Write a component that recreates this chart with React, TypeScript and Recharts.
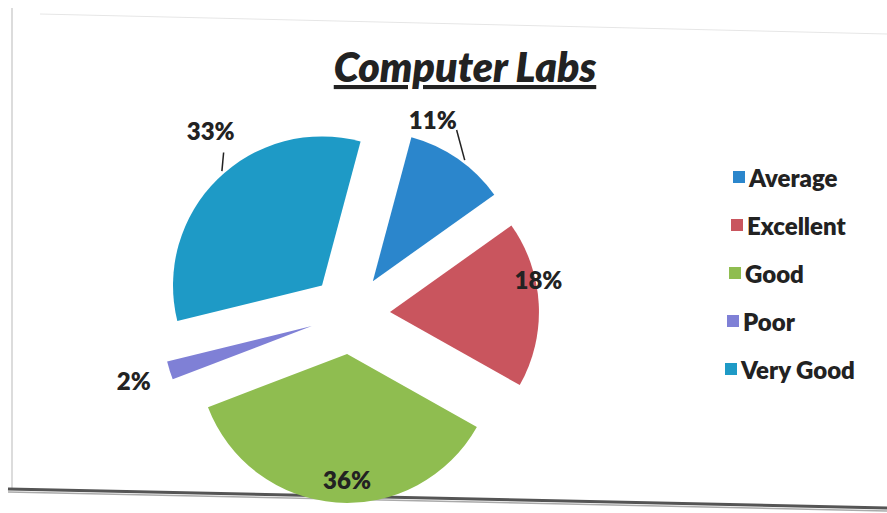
import React from "react";
import { PieChart, Pie, Cell, Legend, Sector } from "recharts";

const categories = ["Average", "Excellent", "Good", "Poor", "Very Good"];
const values = [11, 18, 36, 2, 33];
const colors = ["#2b86cc", "#c9555e", "#8fbd50", "#7f80d6", "#1e9ac6"];
const title = "Computer Labs";

const data = categories.map((name, i) => ({ name, value: values[i] }));

const EXPLODE = 40;
const RAD = Math.PI / 180;

// label placement relative to the exploded slice centre: radius factor, math angle
const labelPlace = [
  { r: 1.155, a: 69.6, line: [1.16, 61, 1.02, 52.8] },
  { r: 1.02, a: 12.3 },
  { r: 0.84, a: 270 },
  { r: 1.25, a: 197 },
  { r: 1.28, a: 125.7, line: [1.11, 126.5, 1.02, 131.2] },
];

const shift = (midAngle: number) => ({
  dx: EXPLODE * Math.cos(-midAngle * RAD),
  dy: EXPLODE * Math.sin(-midAngle * RAD),
});

const renderShape = (props: any) => {
  const { dx, dy } = shift(props.midAngle);
  return <Sector {...props} cx={props.cx + dx} cy={props.cy + dy} stroke="none" />;
};

const polar = (cx: number, cy: number, r: number, a: number) => ({
  x: cx + r * Math.cos(-a * RAD),
  y: cy + r * Math.sin(-a * RAD),
});

const renderLabel = (props: any) => {
  const { cx, cy, midAngle, outerRadius, index, percent } = props;
  const { dx, dy } = shift(midAngle);
  const ecx = cx + dx;
  const ecy = cy + dy;
  const p = labelPlace[index];
  const pos = polar(ecx, ecy, outerRadius * p.r, p.a);
  let line = null;
  if (p.line) {
    const a = polar(ecx, ecy, outerRadius * p.line[0], p.line[1]);
    const b = polar(ecx, ecy, outerRadius * p.line[2], p.line[3]);
    line = <line x1={a.x} y1={a.y} x2={b.x} y2={b.y} stroke="#222" strokeWidth={1.5} />;
  }
  return (
    <g key={`lbl-${index}`}>
      {line}
      <text
        x={pos.x}
        y={pos.y}
        textAnchor="middle"
        dominantBaseline="central"
        fontFamily="Lato, 'Open Sans', sans-serif"
        fontWeight={800}
        fontSize={24}
        fill="#222"
      >
        {`${Math.round(percent * 100)}%`}
      </text>
    </g>
  );
};

const renderLegend = (props: any) => {
  const { payload } = props;
  return (
    <div style={{ display: "flex", flexDirection: "column" }}>
      {payload.map((entry: any, i: number) => (
        <div
          key={entry.value}
          style={{
            display: "flex",
            alignItems: "center",
            height: 48,
            marginLeft: 8 - i * 2,
            fontFamily: "Lato, 'Open Sans', sans-serif",
            fontWeight: 800,
            fontSize: 24,
            color: "#222",
          }}
        >
          <span
            style={{
              display: "inline-block",
              width: 12,
              height: 12,
              background: entry.color,
              marginRight: 4,
            }}
          />
          {entry.value}
        </div>
      ))}
    </div>
  );
};

export default function App() {
  return (
    <div style={{ position: "absolute", left: 0, top: 0, width: 887, height: 513, background: "#fff", overflow: "hidden" }}>
      <svg width={887} height={513} style={{ position: "absolute", left: 0, top: 0 }}>
        <line x1={12} y1={8} x2={12} y2={490} stroke="#d0d0d0" strokeWidth={1.5} />
        <line x1={40} y1={14} x2={887} y2={34} stroke="#e6e6e6" strokeWidth={1} />
        <line x1={8} y1={489} x2={887} y2={508} stroke="#555" strokeWidth={3} />
        <line x1={8} y1={492} x2={887} y2={511} stroke="#aaa" strokeWidth={1.5} />
      </svg>
      <div style={{ position: "absolute", left: 0, top: 0 }}>
        <PieChart width={887} height={513}>
          <text
            x={465}
            y={82}
            textAnchor="middle"
            fontFamily="Lato, 'Open Sans', sans-serif"
            fontWeight={800}
            fontStyle="italic"
            fontSize={41}
            fill="#222"
            textDecoration="underline"
          >
            {title}
          </text>
          <Pie
            data={data}
            dataKey="value"
            nameKey="name"
            cx={345}
            cy={309}
            outerRadius={149}
            startAngle={75}
            endAngle={-285}
            stroke="none"
            shape={renderShape}
            label={renderLabel}
            labelLine={false}
            isAnimationActive={false}
          >
            {data.map((d, i) => (
              <Cell key={d.name} fill={colors[i]} />
            ))}
          </Pie>
          <Legend
            layout="vertical"
            align="right"
            verticalAlign="top"
            content={renderLegend}
            wrapperStyle={{ left: 725, top: 153, width: 162 }}
          />
        </PieChart>
      </div>
    </div>
  );
}
